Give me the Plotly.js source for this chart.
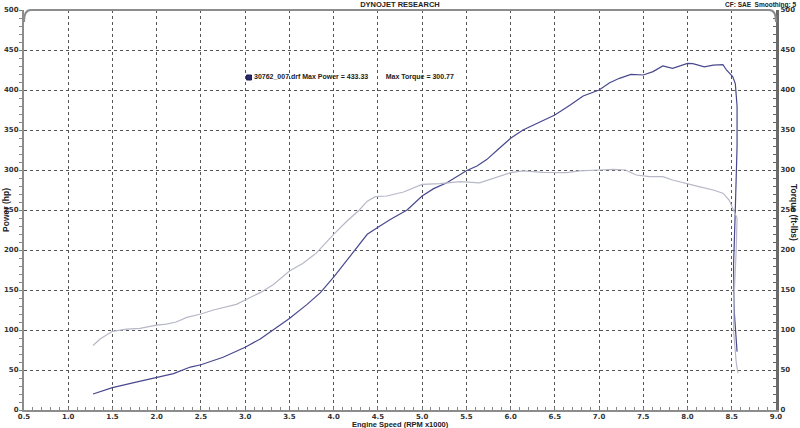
<!DOCTYPE html>
<html>
<head>
<meta charset="utf-8">
<script src="https://cdn.plot.ly/plotly-3.0.1.min.js"></script>
<style>html,body{margin:0;padding:0;background:#fff;}#chart{width:800px;height:428px;}</style>
</head>
<body>
<div id="chart"></div>
<script>
// Engine speed (RPM x1000) and measured values read from the dyno sheet
const powerRpm = [1.28,1.5,1.73,2.0,2.19,2.38,2.5,2.75,3.0,3.17,3.32,3.5,3.7,3.85,4.0,4.14,4.29,4.38,4.51,4.64,4.83,5.0,5.13,5.28,5.39,5.5,5.62,5.73,5.86,6.0,6.14,6.29,6.5,6.67,6.82,7.0,7.12,7.23,7.36,7.5,7.61,7.72,7.83,8.0,8.06,8.19,8.29,8.4,8.44,8.51,8.54,8.56,8.56,8.54,8.52,8.53,8.56];
const powerHp = [20,28,34,40.5,45.5,53.7,56.6,66,78.5,88.8,100.4,114.5,132,146.7,166,185.4,206,219.6,229,238,250,267.5,276.7,284,291.7,299,305,313,326,339.6,350,357.5,368.75,381,392.5,400,409,414.6,419.6,418.75,423,430,427,433.33,433,429,431,431.7,425,416.7,408,380,330,250,180,120,73];
const torqueRpm = [1.28,1.36,1.5,1.66,1.81,1.92,2.0,2.11,2.22,2.34,2.5,2.64,2.79,2.9,3.0,3.17,3.32,3.5,3.65,3.8,4.0,4.14,4.29,4.38,4.47,4.6,4.79,5.0,5.2,5.43,5.65,5.88,6.0,6.14,6.37,6.63,6.78,7.0,7.16,7.3,7.42,7.57,7.72,7.83,8.0,8.14,8.29,8.4,8.47,8.5,8.56,8.55,8.53,8.52,8.55,8.57];
const torqueFtLb = [80.6,88.8,98.3,101,102,104.5,106,107.4,110,115.7,120,125,129,132,137.6,146.7,157,173.75,183,195.8,219.6,235,250,261,266.7,267.5,272.5,282,283,285.4,284,292.5,296.7,299,297,296.7,299,300,300.77,300,293.75,291.7,291.7,287.5,283.3,279,275,271,262.5,255,240,200,150,100,60,46];
const xTicks = [0.5,1.0,1.5,2.0,2.5,3.0,3.5,4.0,4.5,5.0,5.5,6.0,6.5,7.0,7.5,8.0,8.5,9.0];
const yTicks = [0,50,100,150,200,250,300,350,400,450,500];
const runName = "30762_007.drf";
const maxPower = 433.33;
const maxTorque = 300.77;

const tickFont = {family: 'DejaVu Sans', size: 7, color: '#333', weight: 'bold'};
const titleFont = {family: 'Liberation Sans', size: 7.5, color: '#222', weight: 'bold'};
const smallFont = {family: 'Liberation Sans', size: 7, color: '#222', weight: 'bold'};
const sideFont = {family: 'Liberation Sans', size: 8.5, color: '#222', weight: 'bold'};
const gap = '\u00a0'.repeat(9);

const traces = [
  {x: powerRpm, y: powerHp, type: 'scatter', mode: 'lines', name: 'Power',
   line: {color: '#48488e', width: 1.2}, xaxis: 'x', yaxis: 'y'},
  {x: torqueRpm, y: torqueFtLb, type: 'scatter', mode: 'lines', name: 'Torque',
   line: {color: '#b6b8c8', width: 1.2}, xaxis: 'x', yaxis: 'y2'}
];

const layout = {
  width: 800, height: 428,
  margin: {l: 24, r: 24, t: 10, b: 18},
  paper_bgcolor: '#fff', plot_bgcolor: '#fff',
  showlegend: false,
  title: {text: 'DYNOJET RESEARCH', font: titleFont, x: 0.5, xref: 'paper', y: 0.995, yref: 'container', yanchor: 'top'},
  xaxis: {
    range: [0.5, 9.0], tickvals: xTicks, ticktext: xTicks.map(v => v.toFixed(1)),
    showgrid: true, gridcolor: '#555', griddash: 'dot', gridwidth: 1,
    showline: true, linecolor: '#8c8c8c', linewidth: 2, zeroline: false,
    ticks: 'inside', ticklen: 3, tickcolor: '#777',
    minor: {dtick: 0.1, ticks: 'inside', ticklen: 3, tickcolor: '#888', showgrid: false},
    tickfont: tickFont, automargin: false, ticklabelstandoff: -1
  },
  yaxis: {
    range: [0, 500], tickvals: yTicks,
    showgrid: true, gridcolor: '#555', griddash: 'dot', gridwidth: 1,
    showline: true, linecolor: '#8c8c8c', linewidth: 2, zeroline: false,
    ticks: 'outside', ticklen: 2, tickcolor: '#777',
    minor: {dtick: 10, ticks: 'outside', ticklen: 3, tickcolor: '#888', showgrid: false},
    tickfont: tickFont, automargin: false, ticklabelstandoff: 0
  },
  yaxis2: {
    range: [0, 500], tickvals: yTicks, overlaying: 'y', side: 'right',
    showgrid: false, showline: true, linecolor: '#6a6a6a', linewidth: 3, zeroline: false,
    ticks: 'inside', ticklen: 3, tickcolor: '#555',
    minor: {dtick: 10, ticks: 'inside', ticklen: 3, tickcolor: '#666', showgrid: false},
    tickfont: tickFont, automargin: false
  },
  shapes: [
    {type: 'path', xref: 'paper', yref: 'paper',
     path: 'M 0,0.97 Q 0,1 0.009,1 L 0.991,1 Q 1,1 1,0.97',
     line: {color: '#8c8c8c', width: 2}},
    {type: 'rect', xref: 'paper', yref: 'paper', x0: 0.296, x1: 0.3025, y0: 0.825, y1: 0.8375,
     fillcolor: '#2a2a70', line: {color: '#1a1a50', width: 1}}
  ],
  annotations: [
    {xref: 'paper', yref: 'paper', x: 0.303, y: 0.832, xanchor: 'left', yanchor: 'middle', showarrow: false,
     text: runName + ' Max Power = ' + maxPower.toFixed(2) + gap + 'Max Torque = ' + maxTorque.toFixed(2),
     font: smallFont},
    {xref: 'paper', yref: 'paper', x: 1.031, y: 1.0125, xanchor: 'right', yanchor: 'middle', showarrow: false,
     text: 'CF: SAE\u00a0\u00a0Smoothing: 5', font: {family: 'Liberation Sans', size: 6.5, color: '#222', weight: 'bold'}},
    {xref: 'paper', yref: 'paper', x: 0.5, y: -0.036, xanchor: 'center', yanchor: 'middle', showarrow: false,
     text: 'Engine Speed (RPM x1000)', font: {family: 'Liberation Sans', size: 7.5, color: '#222', weight: 'bold'}},
    {xref: 'paper', yref: 'paper', x: -0.024, y: 0.5, xanchor: 'center', yanchor: 'middle', showarrow: false,
     textangle: -90, text: 'Power (hp)', font: sideFont},
    {xref: 'paper', yref: 'paper', x: 1.024, y: 0.495, xanchor: 'center', yanchor: 'middle', showarrow: false,
     textangle: 90, text: 'Torque (ft-lbs)', font: sideFont}
  ]
};

Plotly.newPlot('chart', traces, layout, {staticPlot: true, displayModeBar: false});
</script>
</body>
</html>
